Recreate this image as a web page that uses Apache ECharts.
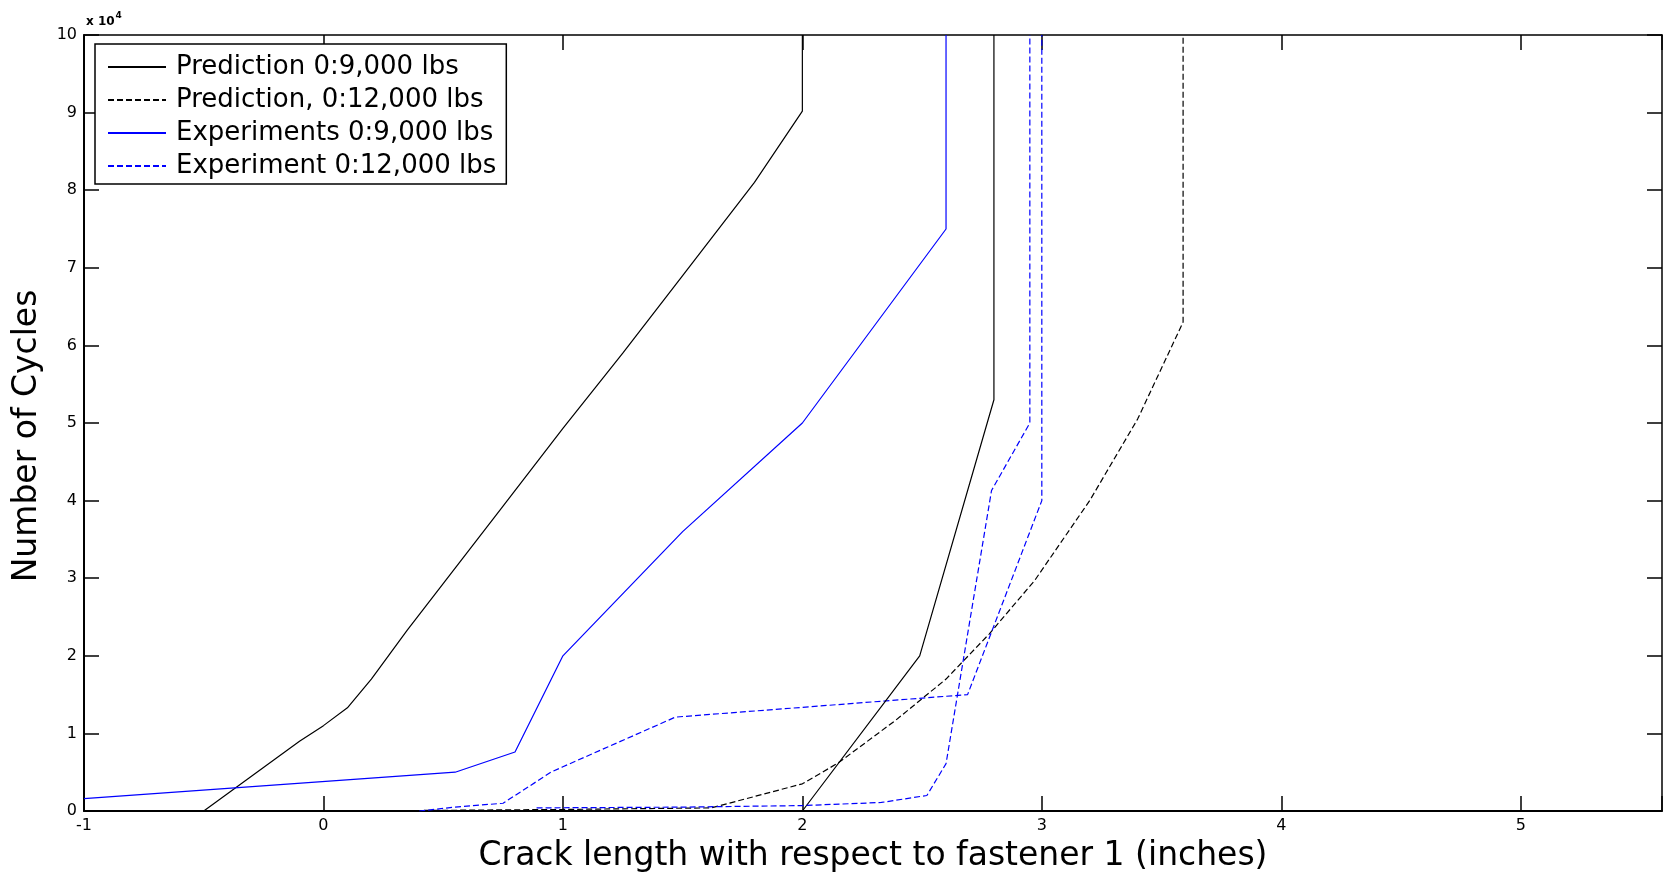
<!DOCTYPE html>
<html>
<head>
<meta charset="utf-8">
<script src="https://cdn.jsdelivr.net/npm/echarts@6/dist/echarts.min.js"></script>
<style>
html,body{margin:0;padding:0;background:#fff;}
#chart{width:1664px;height:872px;}
</style>
</head>
<body>
<div id="chart"></div>
<script>
// Crack length (inches) and number of cycles
const pred9kCrack   = [-0.5, -0.1, 0, 0.1, 0.2, 0.35, 0.5, 0.75, 1.0, 1.25, 1.5, 1.8, 2.0, 2.0];
const pred9kCycles  = [0, 9000, 11000, 13300, 17000, 23300, 29300, 39300, 49300, 59000, 69000, 81000, 90200, 100000];

const pred9kBCrack  = [2.0, 2.49, 2.8, 2.8];
const pred9kBCycles = [0, 20000, 53000, 100000];

const pred12kCrack  = [0.12, 1.0, 1.62, 2.0, 2.15, 2.39, 2.6, 2.78, 2.97, 3.2, 3.4, 3.59, 3.59];
const pred12kCycles = [0, 200, 400, 3500, 6200, 11700, 17000, 22800, 29700, 40000, 50500, 63000, 100000];

const exp9kCrack    = [-1, 0.55, 0.8, 1.0, 1.5, 2.0, 2.6, 2.6];
const exp9kCycles   = [1600, 5000, 7600, 20000, 36000, 50000, 75000, 100000];

const exp12kCrack   = [0.4, 0.55, 0.75, 0.95, 1.0, 1.47, 2.69, 3.0, 3.0];
const exp12kCycles  = [0, 500, 1000, 5000, 5700, 12100, 15000, 40000, 100000];

const exp12kBCrack  = [0.89, 1.5, 2.0, 2.33, 2.52, 2.6, 2.79, 2.95, 2.95];
const exp12kBCycles = [400, 500, 700, 1100, 2000, 6100, 41300, 50000, 100000];

const legendNames = ['Prediction 0:9,000 lbs', 'Prediction, 0:12,000 lbs', 'Experiments 0:9,000 lbs', 'Experiment 0:12,000 lbs'];
const xTicks = [-1, 0, 1, 2, 3, 4, 5];

function pairs(xs, ys){ return xs.map((x,i)=>[x, ys[i]]); }

const FONT = 'DejaVu Sans';
const chart = echarts.init(document.getElementById('chart'));

function mkSeries(name, xs, ys, color, dashed){
  return {
    name: name, type: 'line', data: pairs(xs, ys),
    symbol: 'none', showSymbol: false, animation: false,
    xAxisIndex: 0, yAxisIndex: 0,
    lineStyle: {color: color, width: 1.2, type: dashed ? [6, 3] : 'solid'},
    itemStyle: {color: color}
  };
}

const xCommon = {
  type: 'value', min: -1, max: 5.59, interval: 1,
  splitLine: {show: false},
  axisLine: {show: true, onZero: false, lineStyle: {color: '#000', width: 2}},
  axisTick: {show: true, inside: true, length: 15, lineStyle: {color: '#000', width: 1.5}},
};
const yCommon = {
  type: 'value', min: 0, max: 100000, interval: 10000,
  splitLine: {show: false},
  axisLine: {show: true, onZero: false, lineStyle: {color: '#000', width: 2}},
  axisTick: {show: true, inside: true, length: 15, lineStyle: {color: '#000', width: 1.5}},
};

chart.setOption({
  backgroundColor: '#fff',
  animation: false,
  textStyle: {fontFamily: FONT},
  title: {
    left: 81, top: 5,
    text: '{a|x 10}{b|4}',
    textStyle: {
      rich: {
        a: {fontFamily: FONT, fontSize: 12, color: '#000', padding: [6, 0, 0, 0]},
        b: {fontFamily: FONT, fontSize: 9, color: '#000', padding: [0, 0, 6, 1]}
      }
    }
  },
  grid: {left: 84, right: 2, top: 35, bottom: 61, containLabel: false, outerBoundsMode: 'none'},
  legend: {
    data: legendNames,
    orient: 'vertical',
    left: 95, top: 44,
    backgroundColor: '#fff',
    borderColor: '#000', borderWidth: 1.5, borderRadius: 0,
    padding: [10, 10, 5, 12],
    itemWidth: 58, itemHeight: 14, itemGap: 7,
    itemStyle: {color: 'rgba(0,0,0,0)', borderColor: 'rgba(0,0,0,0)', borderWidth: 0, opacity: 0},
    textStyle: {fontFamily: FONT, fontSize: 26, color: '#000', lineHeight: 24, padding: [0, 0, 0, 5]},
    selectedMode: false
  },
  xAxis: [
    Object.assign({}, xCommon, {
      position: 'bottom',
      axisLabel: {show: true, color: '#000', fontSize: 16, margin: 7, fontFamily: FONT,
        formatter: v => (xTicks.indexOf(Math.round(v*100)/100) >= 0 ? String(v) : '')},
      name: 'Crack length with respect to fastener 1 (inches)',
      nameLocation: 'middle', nameGap: 29,
      nameTextStyle: {fontFamily: FONT, fontSize: 33, color: '#000'}
    }),
    Object.assign({}, xCommon, {
      position: 'top',
      axisLine: {show: true, onZero: false, lineStyle: {color: '#000', width: 1.5}},
      axisLabel: {show: false}
    })
  ],
  yAxis: [
    Object.assign({}, yCommon, {
      position: 'left',
      axisLabel: {show: true, color: '#000', fontSize: 16, margin: 7, fontFamily: FONT,
        formatter: v => String(Math.round(v/10000))},
      name: 'Number of Cycles',
      nameLocation: 'middle', nameGap: 40, nameRotate: 90,
      nameTextStyle: {fontFamily: FONT, fontSize: 33, color: '#000', padding: [0, 26, 0, 0]}
    }),
    Object.assign({}, yCommon, {
      position: 'right',
      axisLine: {show: true, onZero: false, lineStyle: {color: '#000', width: 1.5}},
      axisLabel: {show: false}
    })
  ],
  series: [
    mkSeries(legendNames[0], pred9kCrack, pred9kCycles, '#000000', false),
    mkSeries(legendNames[1], pred12kCrack, pred12kCycles, '#000000', true),
    mkSeries(legendNames[2], exp9kCrack, exp9kCycles, '#0000ff', false),
    mkSeries(legendNames[3], exp12kCrack, exp12kCycles, '#0000ff', true),
    mkSeries('Prediction 0:9,000 lbs (2)', pred9kBCrack, pred9kBCycles, '#000000', false),
    mkSeries('Experiment 0:12,000 lbs (2)', exp12kBCrack, exp12kBCycles, '#0000ff', true)
  ]
});
</script>
</body>
</html>
